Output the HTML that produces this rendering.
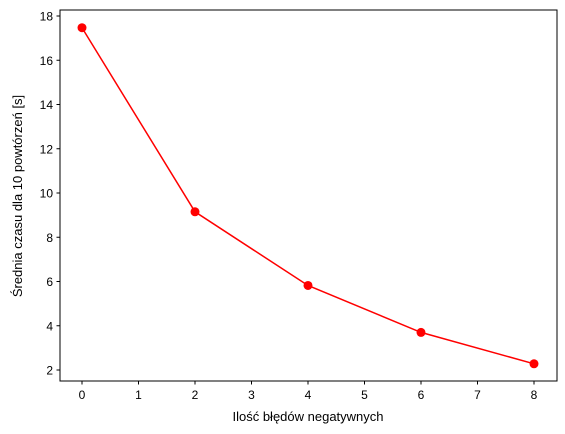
<!DOCTYPE html>
<html><head><meta charset="utf-8"><style>body{margin:0;background:#fff}svg{display:block;font-family:"Liberation Sans","DejaVu Sans",sans-serif}</style></head>
<body>
<svg width="565" height="434">
<g id="ticks"></g>
<rect x="60" y="10" width="497" height="371" fill="none" stroke="#000" stroke-width="1"/>
<polyline id="line" fill="none" stroke="#ff0000" stroke-width="1.5"/>
<g id="pts"></g>
<text x="308" y="421" text-anchor="middle" font-size="13">Ilość błędów negatywnych</text>
<text transform="translate(22,196) rotate(-90)" text-anchor="middle" font-size="13">Średnia czasu dla 10 powtórzeń [s]</text>
</svg>
<script>
const xValues=[0,2,4,6,8];
const yValues=[17.47,9.15,5.82,3.7,2.28];
const xTicks=[0,1,2,3,4,5,6,7,8];
const yTicks=[2,4,6,8,10,12,14,16,18];
const sx=v=>82+v*56.5;
const sy=v=>370-(v-2)*22.125;
const NS="http://www.w3.org/2000/svg";
const tg=document.getElementById('ticks');
function mk(t,a,p){const e=document.createElementNS(NS,t);for(const k in a)e.setAttribute(k,a[k]);p.appendChild(e);return e;}
xTicks.forEach(v=>{const x=sx(v);
const l=mk('line',{x1:x,x2:x,y1:381,y2:384.5,stroke:'#000'},tg);


const t=mk('text',{x:x,y:399,'text-anchor':'middle','font-size':12},tg);t.textContent=v;

});
yTicks.forEach(v=>{const y=sy(v);
const l=mk('line',{x1:56.5,x2:60,y1:y,y2:y,stroke:'#000'},tg);


const t=mk('text',{x:53,y:y+4.5,'text-anchor':'end','font-size':12},tg);t.textContent=v;

});
document.getElementById('line').setAttribute('points',xValues.map((x,i)=>sx(x)+','+sy(yValues[i])).join(' '));
const pg=document.getElementById('pts');
xValues.forEach((x,i)=>{const c=mk('circle',{cx:sx(x),cy:sy(yValues[i]),r:4.5,fill:'#ff0000'},pg);

});
</script>
</body></html>
